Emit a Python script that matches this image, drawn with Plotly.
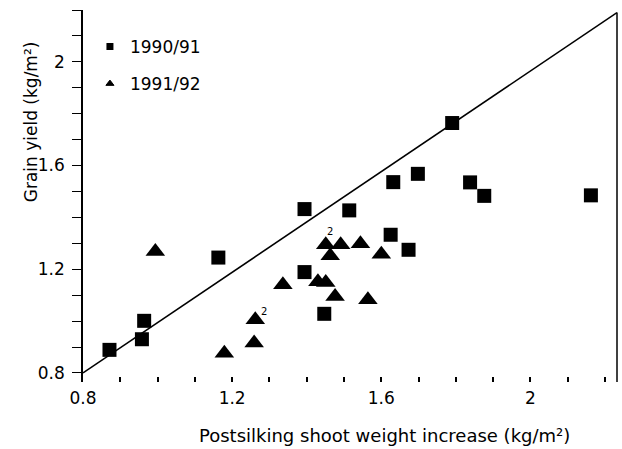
import plotly.graph_objects as go

# ---- data ----
sq_x = [0.871, 0.958, 0.964, 1.163, 1.394, 1.394, 1.447, 1.514, 1.625, 1.632, 1.673, 1.698, 1.790, 1.838, 1.876, 2.162]
sq_y = [0.889, 0.930, 1.001, 1.245, 1.432, 1.189, 1.028, 1.427, 1.333, 1.536, 1.275, 1.568, 1.764, 1.535, 1.483, 1.485]

tri_x = [0.994, 1.179, 1.262, 1.259, 1.336, 1.430, 1.451, 1.451, 1.463, 1.476, 1.491, 1.544, 1.564, 1.600]
tri_y = [1.268, 0.876, 1.005, 0.915, 1.140, 1.152, 1.149, 1.294, 1.252, 1.095, 1.294, 1.298, 1.082, 1.258]

# points representing two coincident observations
dup_x = [1.262, 1.451]
dup_y = [1.005, 1.294]
dup_label = ["2", "2"]

# 1:1 reference line
line_x = [0.8, 2.232]
line_y = [0.8, 2.19]

series_names = ["1990/91", "1991/92"]
x_title = "Postsilking shoot weight increase (kg/m²)"
y_title = "Grain yield (kg/m²)"

FONT = "DejaVu Sans"
BLACK = "black"

fig = go.Figure()

fig.add_trace(go.Scatter(x=line_x, y=line_y, mode="lines",
                         line=dict(color=BLACK, width=1.6),
                         showlegend=False, hoverinfo="skip", cliponaxis=False))

fig.add_trace(go.Scatter(x=sq_x, y=sq_y, mode="markers", name=series_names[0],
                         marker=dict(symbol="square", size=14, color=BLACK),
                         showlegend=False))
fig.add_trace(go.Scatter(x=tri_x, y=tri_y, mode="markers", name=series_names[1],
                         marker=dict(symbol="triangle-up", size=17, color=BLACK),
                         showlegend=False))

# small legend symbols
fig.add_trace(go.Scatter(x=[None], y=[None], mode="markers", name=series_names[0],
                         marker=dict(symbol="square", size=7, color=BLACK),
                         legendgroup="a"))
fig.add_trace(go.Scatter(x=[None], y=[None], mode="markers", name=series_names[1],
                         marker=dict(symbol="triangle-up", size=7, color=BLACK,
                                     line=dict(color=BLACK, width=1)),
                         legendgroup="b"))

annotations = []
for xv, yv, lab, xs, ys in zip(dup_x, dup_y, dup_label, [9, 4], [8, 13]):
    annotations.append(dict(x=xv, y=yv, xref="x", yref="y", text=lab, showarrow=False,
                            xshift=xs, yshift=ys,
                            font=dict(family=FONT, size=10, color=BLACK)))

annotations.append(dict(x=0.565, y=-0.144, xref="paper", yref="paper", text=x_title,
                        showarrow=False, xanchor="center", yanchor="middle",
                        font=dict(family=FONT, size=18, color=BLACK)))
annotations.append(dict(x=-0.098, y=0.70, xref="paper", yref="paper", text=y_title,
                        showarrow=False, textangle=-90, xanchor="center", yanchor="middle",
                        font=dict(family=FONT, size=17, color=BLACK)))

y_bottom = 0.765

fig.update_layout(
    width=622, height=449,
    margin=dict(l=83, r=5, t=10, b=67),
    paper_bgcolor="white", plot_bgcolor="white",
    font=dict(family=FONT, size=17, color=BLACK),
    showlegend=True,
    legend=dict(x=0.013, y=0.949, xanchor="left", yanchor="top",
                bgcolor="rgba(0,0,0,0)", tracegroupgap=12,
                font=dict(family=FONT, size=17, color=BLACK)),
    xaxis=dict(range=[0.8, 2.232], showline=False, showgrid=False, zeroline=False,
               ticks="inside", ticklen=5, tickwidth=1.5, tickcolor=BLACK,
               tick0=0.8, dtick=0.4, tickfont=dict(family=FONT, size=17, color=BLACK),
               ticklabelstandoff=4,
               minor=dict(tick0=0.8, dtick=0.1, ticks="inside", ticklen=5,
                          tickwidth=1.5, tickcolor=BLACK, showgrid=False)),
    yaxis=dict(range=[y_bottom, 2.2], showline=True, linecolor=BLACK, linewidth=1.5,
               showgrid=False, zeroline=False,
               ticks="outside", ticklen=9, tickwidth=1.3, tickcolor=BLACK,
               tick0=0.8, dtick=0.4, tickfont=dict(family=FONT, size=17, color=BLACK),
               ticklabelstandoff=4,
               minor=dict(tick0=0.8, dtick=0.1, ticks="outside", ticklen=9,
                          tickwidth=1.3, tickcolor=BLACK, showgrid=False)),
    annotations=annotations,
    shapes=[dict(type="line", xref="paper", yref="y", x0=1, x1=1,
                 y0=y_bottom - 0.02, y1=line_y[1], line=dict(color=BLACK, width=1.5))],
)

fig.write_html("out.html")
